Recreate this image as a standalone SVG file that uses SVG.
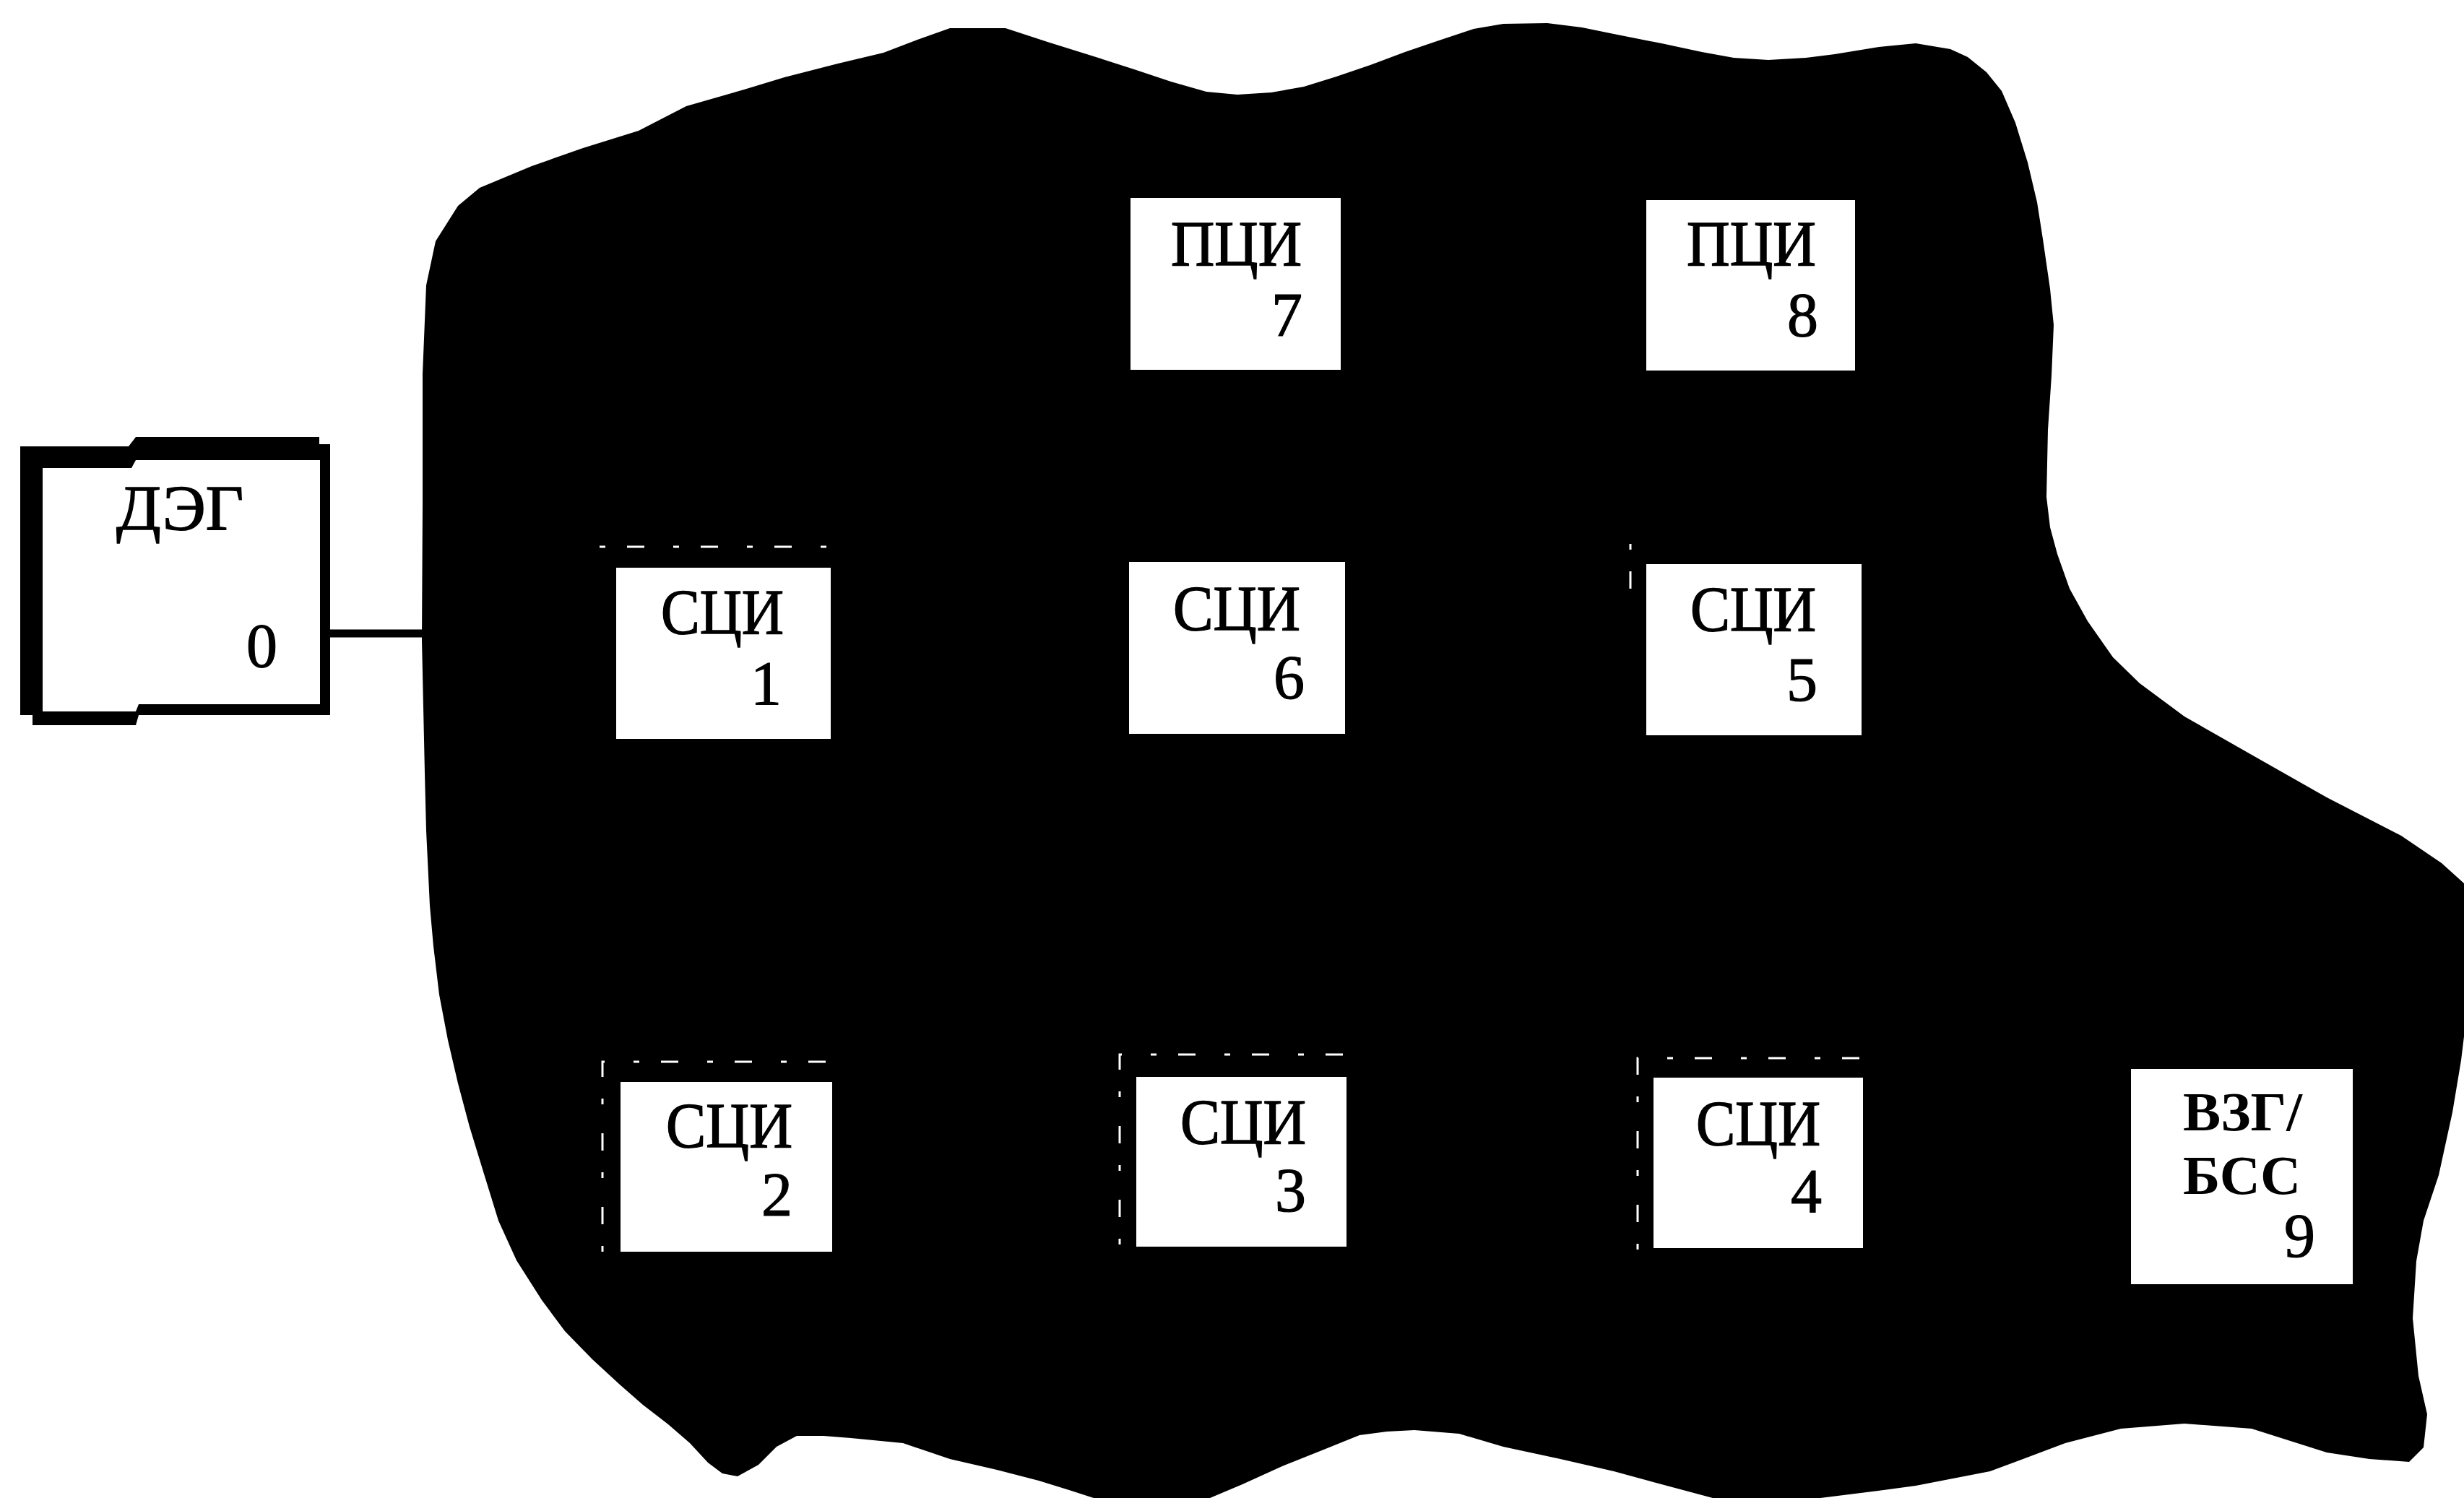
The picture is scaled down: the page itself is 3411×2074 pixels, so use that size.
<svg xmlns="http://www.w3.org/2000/svg" width="3411" height="2074" viewBox="0 0 3411 2074">
<style>
  .box { fill: #ffffff; }
  .lbl { font-family: "Liberation Serif", "Times New Roman", serif; font-size: 88px; fill: #000; stroke: #000; stroke-width: 1.5; }
  .num { font-family: "Liberation Serif", "Times New Roman", serif; font-size: 86px; fill: #000; stroke: #000; stroke-width: 1.2; text-anchor: end; }
  .bold { font-family: "Liberation Serif", "Times New Roman", serif; font-size: 76px; font-weight: bold; fill: #000; }
  .frame { fill: none; stroke: #ffffff; stroke-width: 3; stroke-dasharray: 8 30 24 40; }
  .conn { stroke: #000; stroke-width: 11; fill: none; }
</style>
<rect x="0" y="0" width="3411" height="2074" fill="#ffffff"/>
<g id="blob">
  <path fill="#000" d="M 584 886 L 585 700 L 585 518 L 590 395 L 603 334 L 634 285 L 664 260 L 736 230 L 807 205 L 884 181 L 950 147 L 1030 124 L 1086 107 L 1160 88 L 1223 73 L 1270 55 L 1315 39 L 1392 39 L 1450 58 L 1514 78 L 1570 96 L 1621 113 L 1670 127 L 1713 131 L 1760 128 L 1805 120 L 1850 106 L 1897 90 L 1945 72 L 1989 57 L 2040 40 L 2081 33 L 2142 32 L 2190 38 L 2234 47 L 2300 60 L 2356 72 L 2400 80 L 2448 83 L 2500 80 L 2540 75 L 2601 65 L 2652 60 L 2700 68 L 2724 79 L 2750 100 L 2771 126 L 2790 170 L 2807 225 L 2820 280 L 2828 331 L 2838 400 L 2843 450 L 2840 520 L 2835 595 L 2833 688 L 2838 730 L 2848 767 L 2865 815 L 2890 860 L 2925 910 L 2962 946 L 3024 992 L 3117 1045 L 3221 1104 L 3324 1157 L 3380 1195 L 3411 1223 L 3411 1435 L 3407 1468 L 3395 1540 L 3376 1627 L 3355 1690 L 3345 1746 L 3340 1825 L 3348 1905 L 3360 1958 L 3355 2004 L 3335 2024 L 3280 2020 L 3221 2011 L 3117 1978 L 3024 1971 L 2936 1978 L 2859 1998 L 2755 2037 L 2652 2057 L 2600 2064 L 2520 2074 L 2371 2074 L 2300 2055 L 2234 2037 L 2160 2020 L 2081 2003 L 2020 1985 L 1958 1980 L 1920 1982 L 1882 1987 L 1830 2008 L 1775 2030 L 1720 2055 L 1675 2074 L 1514 2074 L 1480 2063 L 1438 2050 L 1380 2035 L 1315 2020 L 1250 1998 L 1178 1991 L 1140 1988 L 1103 1988 L 1075 2003 L 1050 2028 L 1021 2044 L 1000 2040 L 980 2025 L 955 1998 L 925 1972 L 890 1945 L 858 1917 L 820 1882 L 782 1843 L 750 1800 L 715 1745 L 690 1690 L 669 1622 L 650 1560 L 634 1500 L 620 1440 L 608 1377 L 600 1310 L 595 1254 L 590 1150 L 588 1070 Z"/>
  <g id="frames">
    <path class="frame" d="M 834 1733 V 1470 H 1150"/>
    <path class="frame" d="M 1550 1723 V 1460 H 1864"/>
    <path class="frame" d="M 2267 1730 V 1465 H 2580"/>
    <path class="frame" d="M 2257 753 V 840"/>
    <path class="frame" d="M 830 757 H 1145"/>
  </g>
</g>
<g id="connectors">
  <line class="conn" x1="455" y1="877" x2="588" y2="877"/>
</g>
<g id="node0">
  <path fill="#000" fill-rule="evenodd" d="M 28 618 H 178 L 188 605 H 442 V 615 H 457 V 990 H 192 L 188 1004 H 45 V 990 H 28 Z M 59 648 H 182 L 188 637 H 443 V 975 H 192 L 188 985 H 59 Z"/>
  <text class="lbl" x="161" y="733" font-size="95" textLength="176" lengthAdjust="spacingAndGlyphs">ДЭГ</text>
  <text class="num" x="384" y="923">0</text>
</g>
<g id="node7">
  <rect class="box" x="1565" y="274" width="291" height="238"/>
  <text class="lbl" x="1621" y="367" textLength="181" lengthAdjust="spacingAndGlyphs">ПЦИ</text>
  <text class="num" x="1803" y="465">7</text>
</g>
<g id="node8">
  <rect class="box" x="2279" y="277" width="289" height="236"/>
  <text class="lbl" x="2335" y="367" textLength="179" lengthAdjust="spacingAndGlyphs">ПЦИ</text>
  <text class="num" x="2517" y="465">8</text>
</g>
<g id="node1">
  <rect class="box" x="853" y="786" width="297" height="237"/>
  <text class="lbl" x="915" y="877" textLength="170" lengthAdjust="spacingAndGlyphs">СЦИ</text>
  <text class="num" x="1082" y="975">1</text>
</g>
<g id="node6">
  <rect class="box" x="1563" y="778" width="299" height="238"/>
  <text class="lbl" x="1624" y="872" textLength="176" lengthAdjust="spacingAndGlyphs">СЦИ</text>
  <text class="num" x="1806" y="967">6</text>
</g>
<g id="node5">
  <rect class="box" x="2279" y="781" width="298" height="237"/>
  <text class="lbl" x="2340" y="873" textLength="174" lengthAdjust="spacingAndGlyphs">СЦИ</text>
  <text class="num" x="2516" y="970">5</text>
</g>
<g id="node2">
  <rect class="box" x="859" y="1498" width="293" height="235"/>
  <text class="lbl" x="922" y="1588" textLength="175" lengthAdjust="spacingAndGlyphs">СЦИ</text>
  <text class="num" x="1097" y="1683">2</text>
</g>
<g id="node3">
  <rect class="box" x="1573" y="1491" width="291" height="235"/>
  <text class="lbl" x="1634" y="1583" textLength="174" lengthAdjust="spacingAndGlyphs">СЦИ</text>
  <text class="num" x="1808" y="1677">3</text>
</g>
<g id="node4">
  <rect class="box" x="2289" y="1492" width="290" height="236"/>
  <text class="lbl" x="2348" y="1585" textLength="172" lengthAdjust="spacingAndGlyphs">СЦИ</text>
  <text class="num" x="2522" y="1678">4</text>
</g>
<g id="node9">
  <rect class="box" x="2950" y="1480" width="307" height="298"/>
  <text class="bold" x="3022" y="1565" textLength="165" lengthAdjust="spacingAndGlyphs">ВЗГ/</text>
  <text class="bold" x="3022" y="1653" textLength="163" lengthAdjust="spacingAndGlyphs">БСС</text>
  <text class="num" x="3205" y="1740" font-size="77">9</text>
</g>
</svg>
